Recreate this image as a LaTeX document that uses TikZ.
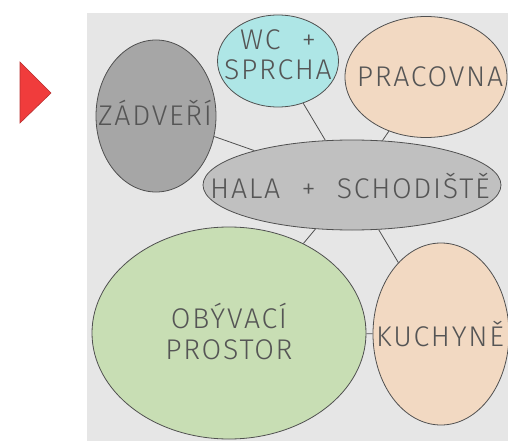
\documentclass[tikz,border=0pt]{standalone}
\usepackage{fontspec}
\newfontfamily\lblfont{Fira Sans Light}[LetterSpace=6, WordSpace=2.2]
\usetikzlibrary{shapes.geometric}
\definecolor{bg}{HTML}{E6E6E6}
\definecolor{edge}{HTML}{505050}
\definecolor{ink}{HTML}{555555}
\definecolor{darkgray}{HTML}{A6A6A6}
\definecolor{lightgray}{HTML}{C0C0C0}
\definecolor{aqua}{HTML}{AEE6E6}
\definecolor{peach}{HTML}{F2D9C2}
\definecolor{sage}{HTML}{C8DEB4}
\definecolor{arrowred}{HTML}{F03C3C}
\definecolor{arrowedge}{HTML}{B83030}
\begin{document}
\begin{tikzpicture}[x=1pt,y=-1pt,
  room/.style={ellipse, draw=edge, line width=0.8pt, inner sep=0pt},
  roomtext/.style={font=\lblfont\fontsize{28.5}{30.5}\selectfont, text=ink,
    align=center, inner sep=0pt, anchor=base},
  link/.style={draw=edge, line width=0.8pt}]
\useasboundingbox (0,0) rectangle (508,441);
% panel
\fill[bg] (87,13) rectangle (508,441);
% red marker
\filldraw[fill=arrowred, draw=arrowedge, line width=0.6pt]
  (20,62) -- (51,93) -- (20,123) -- cycle;
% rooms
\node[room, fill=darkgray, minimum width=120pt, minimum height=152pt] (zad) at (156,116) {};
\node[room, fill=aqua, minimum width=121pt, minimum height=92pt] (wc) at (278,61) {};
\node[room, fill=peach, minimum width=162pt, minimum height=121pt] (prac) at (426,77) {};
\node[room, fill=lightgray, minimum width=298pt, minimum height=90pt] (hala) at (352,185) {};
\node[room, fill=sage, minimum width=274pt, minimum height=212pt] (oby) at (229,333) {};
\node[room, fill=peach, minimum width=136pt, minimum height=182pt] (kuch) at (441,334) {};
% links between rooms
\draw[link] (zad) -- (hala);
\draw[link] (wc) -- (hala);
\draw[link] (prac) -- (hala);
\draw[link] (hala) -- (oby);
\draw[link] (hala) -- (kuch);
\draw[link] (oby) -- (kuch);
% room names (base anchor sits on the last line)
\node[roomtext] (zadT) at (155,125) {ZÁDVEŘÍ};
\node[roomtext] (wcT) at (278,80) {WC +\\SPRCHA};
\node[roomtext] (pracT) at (430,87) {PRACOVNA};
\node[roomtext] (halaT) at (350,198) {HALA + SCHODIŠTĚ};
\node[roomtext] (obyT) at (229,359) {OBÝVACÍ\\PROSTOR};
\node[roomtext] (kuchT) at (440,346) {KUCHYNĚ};
\end{tikzpicture}
\end{document}
